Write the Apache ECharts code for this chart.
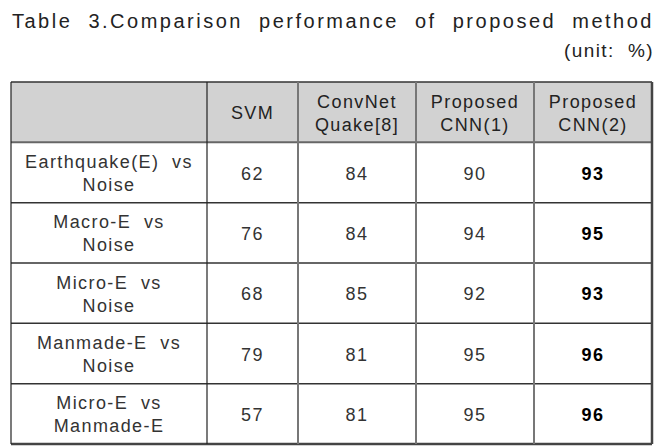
<!DOCTYPE html>
<html><head><meta charset="utf-8">
<script src="https://cdn.jsdelivr.net/npm/echarts@6/dist/echarts.min.js"></script>
<style>
html,body{margin:0;padding:0;background:#fff}
#c{width:672px;height:447px}
#c svg text{letter-spacing:1.4px;white-space:pre}
#c svg text[style*="20px"]{letter-spacing:2.5px}
</style></head><body><div id="c"></div>
<script>
// ---- data ----
const titleText = 'Table  3.Comparison  performance  of  proposed  method';
const unitText = '(unit:  %)';
const columns = ['', 'SVM', 'ConvNet\nQuake[8]', 'Proposed\nCNN(1)', 'Proposed\nCNN(2)'];
const tasks = ['Earthquake(E)  vs\nNoise', 'Macro-E  vs\nNoise', 'Micro-E  vs\nNoise', 'Manmade-E  vs\nNoise', 'Micro-E  vs\nManmade-E'];
const svm = [62, 76, 68, 79, 57];
const convNetQuake = [84, 84, 85, 81, 81];
const cnn1 = [90, 94, 92, 95, 95];
const cnn2 = [93, 95, 93, 96, 96];

// ---- layout (not data) ----
const colWidths = [196, 91, 118, 118, 118];
const colStart = colWidths.reduce((a, w, i) => { a.push(a[i] + w); return a; }, [0]);
const totalW = colStart[colStart.length - 1];
const rowNames = ['header'].concat(tasks);

const valueCols = [svm, convNetQuake, cnn1, cnn2];
const cells = [];
columns.forEach((t, c) => cells.push({ c: c, r: 0, text: t, header: true }));
tasks.forEach((t, i) => {
  cells.push({ c: 0, r: i + 1, text: t });
  valueCols.forEach((arr, j) => cells.push({ c: j + 1, r: i + 1, text: String(arr[i]), bold: j === 3 }));
});

const rules = [];
for (let k = 0; k <= rowNames.length; k++) rules.push({ kind: 'h', k: k });
for (let k = 0; k <= columns.length; k++) rules.push({ kind: 'v', k: k });

const FONT = 'Liberation Sans';
const chart = echarts.init(document.getElementById('c'), null, { renderer: 'svg' });
chart.setOption({
  backgroundColor: '#fff',
  animation: false,
  title: [
    { text: titleText, left: 12, top: 11, padding: 0, textStyle: { fontFamily: FONT, fontSize: 20, fontWeight: 'normal', color: '#222' } },
    { text: unitText, right: 32, top: 41, padding: 0, textStyle: { fontFamily: FONT, fontSize: 19, fontWeight: 'normal', color: '#222' } }
  ],
  grid: { left: 11, right: 20, top: 82, bottom: 3 },
  xAxis: { type: 'value', min: 0, max: totalW, show: false },
  yAxis: { type: 'category', data: rowNames, inverse: true, show: false },
  series: [
    {
      type: 'custom',
      data: cells.map(d => [d.c, d.r]),
      encode: { x: 0, y: 1 },
      renderItem: function (params, api) {
        const d = cells[params.dataIndex];
        const p = api.coord([colStart[d.c], d.r]);
        const s = api.size([colWidths[d.c], 1]);
        const x = p[0], y = p[1] - s[1] / 2, w = s[0], h = s[1];
        return {
          type: 'group',
          children: [
            { type: 'rect', shape: { x: x, y: y, width: w, height: h }, style: { fill: d.header ? '#d2d2d2' : '#ffffff' } },
            { type: 'text', style: {
                text: d.text, x: x + w / 2, y: y + h / 2 + 1, align: 'center', verticalAlign: 'middle',
                fontFamily: FONT, fontSize: 18, lineHeight: 23,
                fontWeight: d.bold ? 'bold' : 'normal',
                fill: d.bold ? '#000' : (d.header ? '#222' : '#333')
            } }
          ]
        };
      }
    },
    {
      type: 'custom',
      z: 5,
      data: rules.map(d => [d.kind === 'v' ? colStart[d.k] : 0, Math.min(d.k, rowNames.length - 1)]),
      encode: { x: 0, y: 1 },
      renderItem: function (params, api) {
        const d = rules[params.dataIndex];
        const cs = params.coordSys;
        if (d.kind === 'h') {
          const rr = Math.min(d.k, rowNames.length - 1);
          const p = api.coord([0, rr]);
          const bh = api.size([0, 1])[1];
          const yy = d.k < rowNames.length ? p[1] - bh / 2 : p[1] + bh / 2;
          let color = '#333', lw = 1.5;
          if (d.k === 1) { color = '#666'; lw = 2; }
          if (d.k === rowNames.length) { color = '#444'; lw = 2.5; }
          return { type: 'line', shape: { x1: cs.x, y1: yy, x2: cs.x + cs.width, y2: yy }, style: { stroke: color, lineWidth: lw } };
        } else {
          const xx = api.coord([colStart[d.k], 0])[0];
          let color = '#777', lw = 2;
          if (d.k === 0 || d.k === 1) { color = '#222'; lw = 1.2; }
          if (d.k === columns.length) { color = '#444'; lw = 2.5; }
          return { type: 'line', shape: { x1: xx, y1: cs.y, x2: xx, y2: cs.y + cs.height }, style: { stroke: color, lineWidth: lw } };
        }
      }
    }
  ]
});
</script></body></html>
